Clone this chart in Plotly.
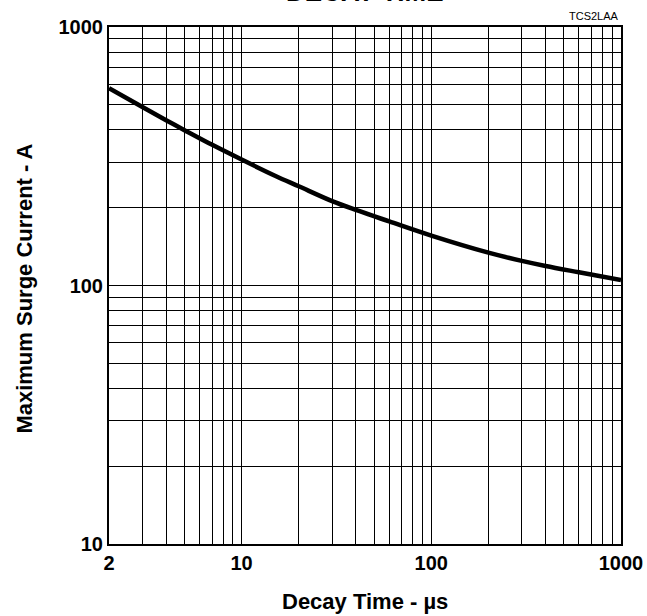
import plotly.graph_objects as go

decay_time = [2, 3, 4, 5, 7, 10, 15, 20, 30, 40, 60, 100, 200, 300, 400, 600, 1000]
surge_current = [580, 490, 436, 399, 350, 307, 266, 242, 212, 196, 177, 156, 134, 124.5, 119, 112.5, 105]

x_ticks = [2, 10, 100, 1000]
x_labels = ["2", "10", "100", "1000"]
y_ticks = [10, 100, 1000]
y_labels = ["10", "100", "1000"]
x_minor = [3, 4, 5, 6, 7, 8, 9, 20, 30, 40, 50, 60, 70, 80, 90, 200, 300, 400, 500, 600, 700, 800, 900]
y_minor = [20, 30, 40, 50, 60, 70, 80, 90, 200, 300, 400, 500, 600, 700, 800, 900]

x_title = "Decay Time - µs"
y_title = "Maximum Surge Current - A"
chart_title = "DECAY TIME"
chart_code = "TCS2LAA"

font = "Arial"

fig = go.Figure()
fig.add_trace(go.Scatter(x=decay_time, y=surge_current, mode="lines",
                         line=dict(color="black", width=4.5, shape="spline", smoothing=1.0),
                         showlegend=False, hoverinfo="skip"))

fig.update_layout(
    width=647, height=616,
    margin=dict(l=109, r=26, t=27, b=72, autoexpand=False),
    paper_bgcolor="white", plot_bgcolor="white",
    font=dict(family=font, color="black"),
    showlegend=False,
)
axis_common = dict(
    type="log", tickmode="array", automargin=False,
    tickfont=dict(size=20, family=font, color="black", weight="bold"),
    showgrid=True, gridcolor="black", gridwidth=1,
    showline=True, linecolor="black", linewidth=2, mirror=True,
    ticks="", zeroline=False,
)
fig.update_xaxes(
    range=[0.30103, 3], tickvals=x_ticks, ticktext=x_labels,
    minor=dict(tickmode="array", tickvals=x_minor, showgrid=True, gridcolor="black", gridwidth=1, ticks=""),
    **axis_common,
)
fig.update_yaxes(
    range=[1, 3], tickvals=y_ticks, ticktext=y_labels,
    minor=dict(tickmode="array", tickvals=y_minor, showgrid=True, gridcolor="black", gridwidth=1, ticks=""),
    **axis_common,
)

fig.add_annotation(text=x_title, xref="paper", yref="paper", x=0.5, y=0,
                   xanchor="center", yanchor="middle", yshift=-57, showarrow=False,
                   font=dict(size=22, family=font, color="black", weight="bold"))
fig.add_annotation(text=y_title, xref="paper", yref="paper", x=0, y=0.494, textangle=-90,
                   xanchor="center", yanchor="middle", xshift=-84, showarrow=False,
                   font=dict(size=22, family=font, color="black", weight="bold"))
fig.add_annotation(text=chart_title, xref="paper", yref="paper", x=0.5, y=1,
                   xanchor="center", yanchor="middle", yshift=35, showarrow=False,
                   font=dict(size=26, family=font, color="black", weight="bold"))
fig.add_annotation(text=chart_code, xref="paper", yref="paper", x=1, y=1,
                   xanchor="right", yanchor="bottom", yshift=3, showarrow=False,
                   font=dict(size=11, family=font, color="black"))

fig.write_html("out.html", config={"displayModeBar": False},
               post_script="document.body.style.margin='0';")
